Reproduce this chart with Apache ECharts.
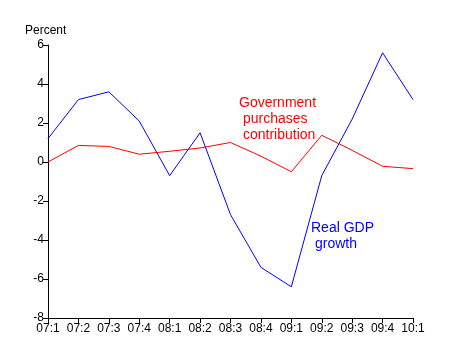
<!DOCTYPE html>
<html><head><meta charset="utf-8">
<script src="https://cdn.jsdelivr.net/npm/echarts@6/dist/echarts.min.js"></script>
<style>html,body{margin:0;padding:0;background:#fff}#c{width:451px;height:364px}</style>
</head><body><div id="c"></div>
<script>
const categories = ['07:1','07:2','07:3','07:4','08:1','08:2','08:3','08:4','09:1','09:2','09:3','09:4','10:1'];
const gdpGrowth = [1.2, 3.2, 3.6, 2.1, -0.7, 1.5, -2.7, -5.4, -6.4, -0.7, 2.2, 5.6, 3.2];
const govContribution = [0.0, 0.85, 0.8, 0.4, 0.55, 0.72, 1.0, 0.3, -0.5, 1.37, 0.6, -0.22, -0.34];
const yTicks = {min: -8, max: 6, interval: 2};

const chart = echarts.init(document.getElementById('c'), null, {renderer: 'canvas'});
const font = 'Liberation Sans, Arial, sans-serif';
const note = (text, x, y, color) => ({type: 'text', x: x, y: y,
  style: {text: text, fill: color, font: '14px ' + font, align: 'left', verticalAlign: 'middle'}});
chart.setOption({
  animation: false,
  backgroundColor: '#fff',
  grid: {left: 48, right: 38, top: 45, bottom: 46},
  xAxis: {
    type: 'category', data: categories, boundaryGap: false,
    axisLine: {onZero: false, lineStyle: {color: '#000', width: 1}},
    axisTick: {show: true, alignWithLabel: true, length: 5, lineStyle: {color: '#000'}},
    axisLabel: {color: '#000', fontFamily: font, fontSize: 12, margin: 5, interval: 0},
    splitLine: {show: false}
  },
  yAxis: {
    type: 'value', min: yTicks.min, max: yTicks.max, interval: yTicks.interval,
    axisLine: {show: true, lineStyle: {color: '#000', width: 1}},
    axisTick: {show: true, length: 5, lineStyle: {color: '#000'}},
    axisLabel: {color: '#000', fontFamily: font, fontSize: 12, margin: 4},
    splitLine: {show: false}
  },
  series: [
    {type: 'line', data: gdpGrowth, symbol: 'none', lineStyle: {color: '#0000ff', width: 1}, z: 2},
    {type: 'line', data: govContribution, symbol: 'none', lineStyle: {color: '#ff0000', width: 1}, z: 3}
  ],
  graphic: [
    {type: 'text', left: 25, top: 25, style: {text: 'Percent', fill: '#000', font: '12px ' + font}},
    note('Government', 239, 103, '#ff0000'),
    note('purchases', 243, 119, '#ff0000'),
    note('contribution', 243, 135, '#ff0000'),
    note('Real GDP', 311, 228, '#0000ff'),
    note('growth', 315, 244, '#0000ff')
  ]
});
</script></body></html>
